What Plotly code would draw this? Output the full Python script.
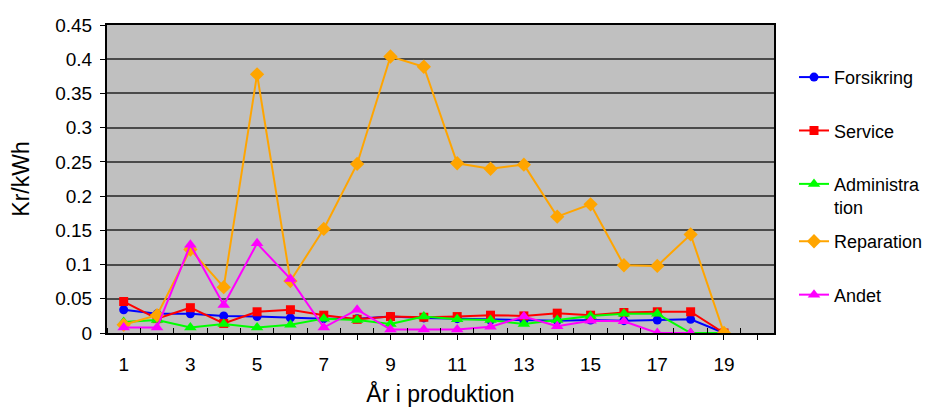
import plotly.graph_objects as go

years = list(range(1, 20))
forsikring = [0.034, 0.028, 0.028, 0.025, 0.024, 0.022, 0.021, 0.021, 0.024, 0.022, 0.021, 0.019, 0.018, 0.018, 0.019, 0.018, 0.019, 0.020, 0.0]
service = [0.046, 0.021, 0.037, 0.014, 0.031, 0.034, 0.026, 0.020, 0.024, 0.023, 0.024, 0.026, 0.025, 0.029, 0.026, 0.030, 0.031, 0.031, 0.0]
administration = [0.016, 0.019, 0.008, 0.013, 0.008, 0.012, 0.021, 0.019, 0.013, 0.024, 0.020, 0.019, 0.013, 0.019, 0.025, 0.028, 0.028, 0.0, 0.0]
reparation = [0.012, 0.026, 0.122, 0.067, 0.378, 0.076, 0.152, 0.247, 0.404, 0.389, 0.248, 0.240, 0.246, 0.170, 0.188, 0.099, 0.098, 0.144, 0.0]
andet = [0.008, 0.008, 0.129, 0.041, 0.131, 0.079, 0.008, 0.034, 0.005, 0.005, 0.005, 0.009, 0.024, 0.010, 0.018, 0.017, 0.0, 0.0, None]

series_names = ["Forsikring", "Service", "Administra<br>tion", "Reparation", "Andet"]
x_tick_vals = list(range(1, 21))
x_tick_text = [str(v) if v % 2 == 1 else "" for v in x_tick_vals]
y_tick_vals = [0, 0.05, 0.1, 0.15, 0.2, 0.25, 0.3, 0.35, 0.4, 0.45]
y_tick_text = ["0", "0.05", "0.1", "0.15", "0.2", "0.25", "0.3", "0.35", "0.4", "0.45"]

styles = [
    ("#0000FF", "circle", 9),
    ("#FF0000", "square", 9),
    ("#00FF00", "triangle-up", 11),
    ("#FFA500", "diamond", 11),
    ("#FF00FF", "triangle-up", 11),
]
legend_of = ["legend", "legend", "legend", "legend2", "legend2"]
all_series = [forsikring, service, administration, reparation, andet]

FONT = "Liberation Sans, Arial, sans-serif"

fig = go.Figure()
for i, (name, vals, (col, sym, sz)) in enumerate(zip(series_names, all_series, styles)):
    fig.add_trace(go.Scatter(
        x=years, y=vals, name=name, mode="lines+markers",
        line=dict(color=col, width=2),
        marker=dict(color=col, symbol=sym, size=sz, line=dict(width=0)),
        legendgroup=f"g{i}",
        legend=legend_of[i],
        connectgaps=False,
    ))

legend_common = dict(
    xanchor="left", yanchor="top",
    font=dict(family=FONT, size=18),
    tracegroupgap=27,
    valign="top",
    bgcolor="rgba(0,0,0,0)",
)

# The page body has a default 8px margin; figure sized to fit the 931x407 window.
fig.update_layout(
    width=923, height=399,
    margin=dict(l=99, r=157, t=17, b=74, autoexpand=False),
    paper_bgcolor="white",
    plot_bgcolor="#C0C0C0",
    font=dict(family=FONT, size=19, color="black"),
    showlegend=True,
    legend=dict(x=1.03, y=0.89, **legend_common),
    legend2=dict(x=1.03, y=0.357, **legend_common),
    xaxis=dict(
        range=[0.5, 20.5],
        tickmode="array", tickvals=x_tick_vals, ticktext=x_tick_text,
        ticks="outside", ticklen=5, tickcolor="black", tickwidth=1,
        showgrid=False, zeroline=False,
        showline=True, linecolor="black", linewidth=2, mirror=True,
        ticklabelstandoff=8,
        tickfont=dict(size=19),
        minor=dict(tick0=0.5, dtick=1, ticks="inside", ticklen=5, tickcolor="black", tickwidth=1, showgrid=False),
        title=dict(text="År i produktion", font=dict(size=23), standoff=12),
    ),
    yaxis=dict(
        range=[0, 0.45],
        tickmode="array", tickvals=y_tick_vals, ticktext=y_tick_text,
        ticks="outside", ticklen=5, tickcolor="black", tickwidth=1,
        showgrid=True, gridcolor="#4a4a4a", gridwidth=1.5,
        zeroline=False,
        showline=True, linecolor="black", linewidth=2, mirror=True,
        ticklabelstandoff=4,
        tickfont=dict(size=19),
        title=dict(text="Kr/kWh", font=dict(size=23), standoff=22),
    ),
)

fig.write_html("out.html")
